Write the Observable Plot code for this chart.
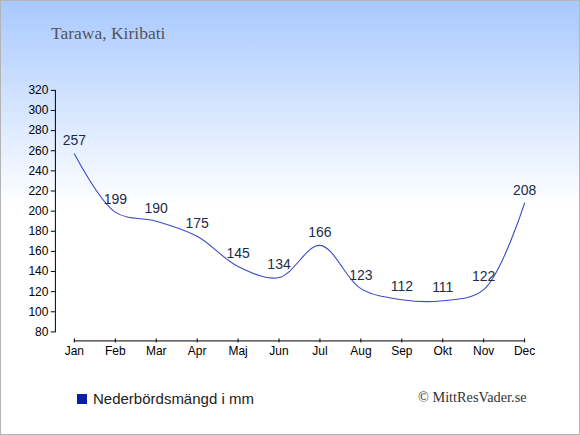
<!DOCTYPE html>
<html>
<head>
<meta charset="utf-8">
<script src="https://cdn.jsdelivr.net/npm/d3@7"></script>
<script src="https://cdn.jsdelivr.net/npm/@observablehq/plot@0.6"></script>
<style>
  html, body { margin: 0; padding: 0; background: white; }
  #wrap {
    position: relative; width: 580px; height: 435px; box-sizing: border-box;
    border: 1px solid #b4b4b4;
    background: linear-gradient(to bottom, #a8c9ff 0px, #ffffff 205px, #ffffff 435px);
    overflow: hidden;
  }
  #chart { position: absolute; left: -1px; top: -1px; }
  #title {
    position: absolute; left: 50px; top: 22px;
    font-family: "Liberation Serif", serif; font-size: 17.5px; color: #555;
  }
  #legend {
    position: absolute; left: 76px; top: 389px;
    font-family: "Liberation Sans", Arial, sans-serif; font-size: 15px; color: #222;
    display: flex; align-items: center;
  }
  #legend .sw { width: 10px; height: 10px; background: #0a1ea8; margin-right: 6px; }
  #credit {
    position: absolute; left: 417px; top: 388px;
    font-family: "Liberation Serif", serif; font-size: 14.3px; color: #333;
  }
</style>
</head>
<body>
<div id="wrap">
  <div id="chart"></div>
  <div id="title">Tarawa, Kiribati</div>
  <div id="legend"><span class="sw"></span><span>Nederbördsmängd i mm</span></div>
  <div id="credit">© MittResVader.se</div>
</div>
<script>
const months = ["Jan","Feb","Mar","Apr","Maj","Jun","Jul","Aug","Sep","Okt","Nov","Dec"];
const rainfall = [257, 199, 190, 175, 145, 134, 166, 123, 112, 111, 122, 208];
const yTicks = [80,100,120,140,160,180,200,220,240,260,280,300,320];

const data = months.map((m, i) => ({month: m, value: rainfall[i]}));

const chart = Plot.plot({
  width: 580,
  height: 435,
  marginTop: 90,
  marginBottom: 103,
  marginLeft: 74,
  marginRight: 55,
  style: {background: "transparent", fontFamily: "'Liberation Sans', Arial, sans-serif", fontSize: "12px", color: "#000"},
  x: {type: "point", domain: months, padding: 0},
  y: {domain: [80, 320]},
  marks: [
    Plot.frame({anchor: "left", dx: -19, stroke: "#000"}),
    Plot.frame({anchor: "bottom", dy: 9, stroke: "#000"}),
    Plot.axisY({ticks: yTicks, tickSize: 4, tickPadding: 3, dx: -19, label: null, fontSize: 12}),
    Plot.axisX({tickSize: 4, tickPadding: 4, dy: 7, label: null, fontSize: 12}),
    Plot.line(data, {x: "month", y: "value", curve: "catmull-rom", stroke: "#3a4ac8", strokeWidth: 1.1}),
    Plot.text(data, {x: "month", y: "value", text: d => String(d.value), dy: -13, fontSize: 14, fill: "#1c2b4a"})
  ]
});
document.getElementById("chart").appendChild(chart);
</script>
</body>
</html>
